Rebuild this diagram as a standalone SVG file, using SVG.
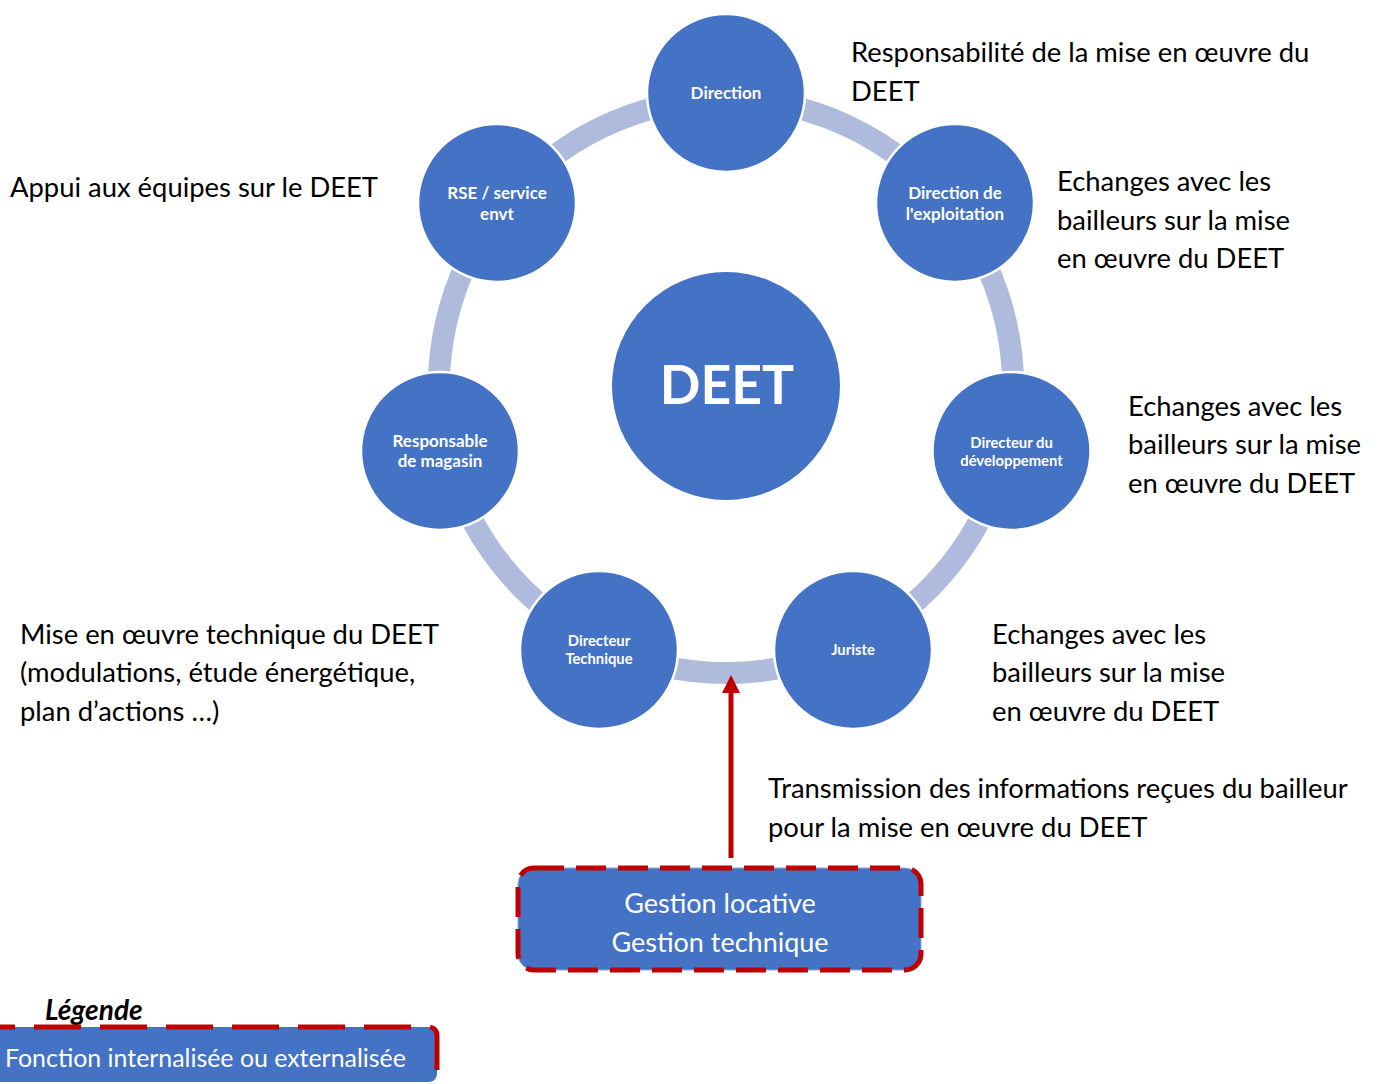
<svg xmlns="http://www.w3.org/2000/svg" width="1384" height="1084" viewBox="0 0 1384 1084">
  <style>
    .node { fill: #4472C4; stroke: #FFFFFF; stroke-width: 2.5; }
    .lbl { font-family: Lato, "Open Sans", "Liberation Sans", sans-serif; font-weight: bold; fill: #FFFFFF; text-anchor: middle; }
    .big { font-size: 17px; }
    .small { font-size: 14.8px; }
    .note { font-family: Lato, "Open Sans", "Liberation Sans", sans-serif; font-size: 27.4px; fill: #000000; }
    .arc { fill: none; stroke: #AFBBDD; stroke-width: 22; }
    .dash { fill: none; stroke: #C00000; stroke-width: 5; }
    .box { font-family: Lato, "Open Sans", "Liberation Sans", sans-serif; fill: #FFFFFF; }
  </style>

  <!-- ring segments between neighbouring nodes (centre 726,386, r 287) -->
  <g id="connectors">
    <path class="arc" d="M726 99 A287 287 0 0 1 950.39 207.06"/>
    <path class="arc" d="M950.39 207.06 A287 287 0 0 1 1005.8 449.86"/>
    <path class="arc" d="M1005.8 449.86 A287 287 0 0 1 850.52 644.58"/>
    <path class="arc" d="M850.52 644.58 A287 287 0 0 1 601.48 644.58"/>
    <path class="arc" d="M601.48 644.58 A287 287 0 0 1 446.2 449.86"/>
    <path class="arc" d="M446.2 449.86 A287 287 0 0 1 501.61 207.06"/>
    <path class="arc" d="M501.61 207.06 A287 287 0 0 1 726 99"/>
    <!-- arrow from the management box up to the ring -->
    <line x1="731" y1="858" x2="731" y2="690" stroke="#C00000" stroke-width="5"/>
    <polygon points="731,675 722,693 740,693" fill="#C00000"/>
  </g>

  <g id="node-deet">
    <circle cx="726" cy="386" r="114" fill="#4472C4"/>
    <text class="lbl" x="727" y="404" font-size="53.5">DEET</text>
  </g>

  <g id="node-direction">
    <circle class="node" cx="726" cy="93" r="79"/>
    <text class="lbl big" x="726" y="99">Direction</text>
  </g>

  <g id="node-exploitation">
    <circle class="node" cx="955" cy="203" r="79"/>
    <text class="lbl big" x="955" y="199">Direction de</text>
    <text class="lbl big" x="955" y="220">l'exploitation</text>
  </g>

  <g id="node-developpement">
    <circle class="node" cx="1011.5" cy="451" r="79"/>
    <text class="lbl small" x="1011.5" y="448">Directeur du</text>
    <text class="lbl small" x="1011.5" y="466">développement</text>
  </g>

  <g id="node-juriste">
    <circle class="node" cx="853" cy="650" r="79"/>
    <text class="lbl small" x="853" y="655">Juriste</text>
  </g>

  <g id="node-technique">
    <circle class="node" cx="599" cy="650" r="79"/>
    <text class="lbl small" x="599" y="646">Directeur</text>
    <text class="lbl small" x="599" y="664">Technique</text>
  </g>

  <g id="node-magasin">
    <circle class="node" cx="440" cy="451" r="79"/>
    <text class="lbl big" x="440" y="447">Responsable</text>
    <text class="lbl big" x="440" y="467">de magasin</text>
  </g>

  <g id="node-rse">
    <circle class="node" cx="497" cy="203" r="79"/>
    <text class="lbl big" x="497" y="199">RSE / service</text>
    <text class="lbl big" x="497" y="220">envt</text>
  </g>

  <!-- role descriptions -->
  <g id="notes">
    <text class="note" x="851" y="62">Responsabilité de la mise en œuvre du</text>
    <text class="note" x="851" y="101">DEET</text>

    <text class="note" x="10" y="197">Appui aux équipes sur le DEET</text>

    <text class="note" x="1057" y="191">Echanges avec les</text>
    <text class="note" x="1057" y="230">bailleurs sur la mise</text>
    <text class="note" x="1057" y="268">en œuvre du DEET</text>

    <text class="note" x="1128" y="416">Echanges avec les</text>
    <text class="note" x="1128" y="454">bailleurs sur la mise</text>
    <text class="note" x="1128" y="493">en œuvre du DEET</text>

    <text class="note" x="992" y="644">Echanges avec les</text>
    <text class="note" x="992" y="682">bailleurs sur la mise</text>
    <text class="note" x="992" y="721">en œuvre du DEET</text>

    <text class="note" x="20" y="644">Mise en œuvre technique du DEET</text>
    <text class="note" x="20" y="682">(modulations, étude énergétique,</text>
    <text class="note" x="20" y="721">plan d’actions …)</text>

    <text class="note" x="768" y="798">Transmission des informations reçues du bailleur</text>
    <text class="note" x="768" y="837">pour la mise en œuvre du DEET</text>
  </g>

  <g id="node-gestion">
    <rect x="518" y="868" width="403" height="102" rx="16" fill="#4472C4" stroke="#8EA6DA" stroke-width="1"/>
    <rect class="dash" x="518" y="868" width="403" height="102" rx="16" stroke-dasharray="30 12"/>
    <text class="box" x="720" y="913" font-size="27" text-anchor="middle">Gestion locative</text>
    <text class="box" x="720" y="952" font-size="27" text-anchor="middle">Gestion technique</text>
  </g>

  <g id="legend">
    <text x="45" y="1020" font-family="Lato, 'Open Sans', 'Liberation Sans', sans-serif" font-size="28" font-weight="bold" font-style="italic" fill="#000000">Légende</text>
    <rect x="-12" y="1027" width="449" height="55" rx="8" fill="#4472C4"/>
    <path class="dash" d="M-5 1027 H428 Q437 1027 437 1036 V1070" stroke-width="5.5" stroke-dasharray="47 19" stroke-dashoffset="27"/>
    <text class="box" x="5" y="1067" font-size="24.9">Fonction internalisée ou externalisée</text>
  </g>
</svg>
